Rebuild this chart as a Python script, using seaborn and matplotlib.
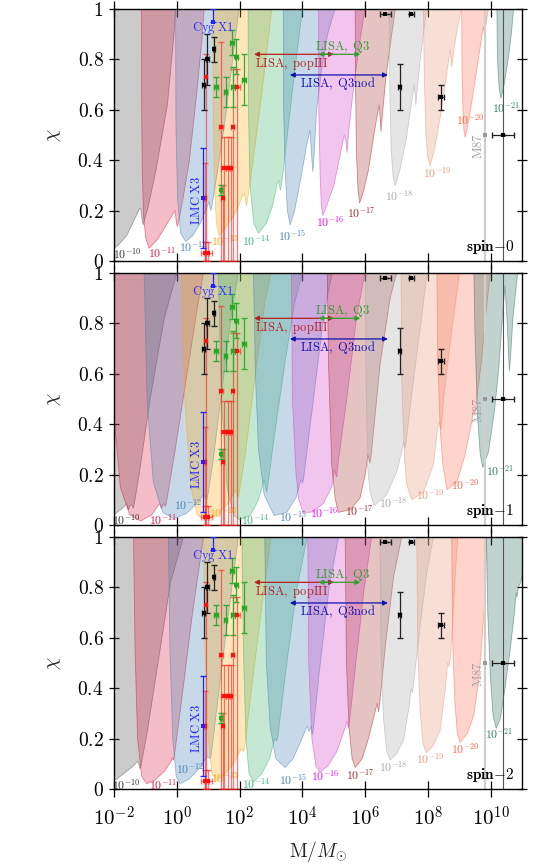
import numpy as np
import matplotlib
matplotlib.use("Agg")
import matplotlib.pyplot as plt
import seaborn as sns
from matplotlib.colors import to_rgba
from matplotlib.ticker import NullLocator

# boson masses (eV) and their colours
mass_labels = [r'$10^{-10}$', r'$10^{-11}$', r'$10^{-12}$', r'$10^{-13}$', r'$10^{-14}$', r'$10^{-15}$',
               r'$10^{-16}$', r'$10^{-17}$', r'$10^{-18}$', r'$10^{-19}$', r'$10^{-20}$', r'$10^{-21}$']
mass_colors = ['#555555', 'crimson', 'steelblue', 'orange', 'mediumseagreen', 'steelblue',
               '#d63fc8', 'brown', 'darkgray', 'darksalmon', 'tomato', '#2f6f60']
mass_alpha = [0.3, 0.28, 0.3, 0.27, 0.3, 0.3, 0.3, 0.28, 0.3, 0.3, 0.27, 0.3]
label_colors = ['#333333', 'crimson', 'steelblue', 'orange', 'mediumseagreen', 'steelblue',
                'magenta', 'brown', 'darkgray', 'darksalmon', 'tomato', '#2f7f68']

# excluded regions, vertices as (log10 M/Msun, chi)
# spin-0
s0_10 = [(-2.6, 1.0), (-2.4, 0.55), (-2.25, 0.18), (-2.12, 0.06), (-2.05, 0.044), (-1.85, 0.065), (-1.6, 0.1),
         (-1.35, 0.165), (-1.2, 0.205), (-1.15, 0.21), (-1.1, 0.16), (-1.07, 0.143), (-1.03, 0.165), (-0.94, 0.2),
         (-0.67, 0.355), (-0.3, 0.62), (-0.09, 0.9), (-0.04, 1.0)]
s0_11 = [(-1.13, 1.0), (-1.12, 0.6), (-1.1, 0.35), (-1.06, 0.18), (-0.99, 0.09), (-0.885, 0.05), (-0.62, 0.085),
         (-0.35, 0.14), (-0.13, 0.185), (-0.06, 0.2), (-0.01, 0.15), (0.02, 0.136), (0.06, 0.16), (0.2, 0.25),
         (0.4, 0.4), (0.62, 0.65), (0.8, 0.88), (0.87, 1.0)]
s0_12 = [(-0.04, 1.0), (-0.03, 0.55), (0.02, 0.25), (0.12, 0.11), (0.28, 0.077), (0.5, 0.1), (0.75, 0.15),
         (0.95, 0.21), (1.03, 0.235), (1.06, 0.21), (1.08, 0.2), (1.12, 0.22), (1.3, 0.36), (1.55, 0.57),
         (1.8, 0.82), (1.98, 1.0)]
s0_13 = [(1.15, 1.0), (1.16, 0.6), (1.2, 0.3), (1.26, 0.15), (1.35, 0.1), (1.6, 0.14), (1.9, 0.2), (2.1, 0.26),
         (2.16, 0.27), (2.19, 0.235), (2.22, 0.22), (2.26, 0.25), (2.45, 0.42), (2.7, 0.66), (2.9, 0.87), (3.02, 1.0)]
s0_14 = [(2.27, 1.0), (2.28, 0.6), (2.33, 0.3), (2.45, 0.15), (2.6, 0.11), (2.85, 0.15), (3.05, 0.22), (3.2, 0.31),
         (3.25, 0.32), (3.28, 0.29), (3.3, 0.28), (3.34, 0.31), (3.5, 0.48), (3.72, 0.72), (3.9, 0.9), (4.0, 1.0)]
s0_15 = [(3.39, 1.0), (3.4, 0.6), (3.45, 0.35), (3.52, 0.2), (3.605, 0.143), (3.75, 0.2), (3.95, 0.33),
         (4.12, 0.45), (4.24, 0.52), (4.29, 0.42), (4.33, 0.354), (4.37, 0.42), (4.45, 0.6), (4.6, 0.75),
         (4.8, 0.9), (5.04, 1.0)]
s0_16 = [(4.51, 1.0), (4.52, 0.6), (4.56, 0.35), (4.6, 0.22), (4.65, 0.18), (4.8, 0.23), (5.0, 0.3), (5.2, 0.42),
         (5.33, 0.5), (5.38, 0.48), (5.42, 0.43), (5.46, 0.5), (5.6, 0.66), (5.8, 0.85), (5.99, 1.0)]
s0_17 = [(5.68, 1.0), (5.69, 0.7), (5.72, 0.42), (5.77, 0.28), (5.82, 0.229), (5.95, 0.28), (6.1, 0.36),
         (6.3, 0.52), (6.44, 0.62), (6.48, 0.56), (6.5, 0.513), (6.53, 0.56), (6.65, 0.72), (6.82, 0.88), (6.96, 1.0)]
s0_18 = [(6.76, 1.0), (6.78, 0.7), (6.82, 0.45), (6.89, 0.33), (6.95, 0.298), (7.1, 0.36), (7.3, 0.48),
         (7.5, 0.65), (7.56, 0.7), (7.59, 0.65), (7.61, 0.62), (7.64, 0.66), (7.75, 0.8), (7.88, 0.93), (7.96, 1.0)]
s0_19 = [(7.85, 1.0), (7.88, 0.72), (7.93, 0.5), (7.99, 0.41), (8.06, 0.377), (8.2, 0.44), (8.4, 0.58),
         (8.6, 0.75), (8.7, 0.84), (8.73, 0.8), (8.75, 0.77), (8.78, 0.8), (8.9, 0.9), (9.05, 1.0)]
s0_20 = [(9.07, 1.0), (9.08, 0.75), (9.11, 0.6), (9.14, 0.52), (9.18, 0.49), (9.3, 0.56), (9.45, 0.68),
         (9.6, 0.8), (9.72, 0.9), (9.76, 0.93), (9.79, 0.9), (9.82, 0.92), (9.88, 0.97), (9.92, 1.0)]
s0_21 = [(10.19, 1.0), (10.21, 0.8), (10.26, 0.69), (10.32, 0.645), (10.42, 0.7), (10.55, 0.8), (10.65, 0.9),
         (10.72, 1.0)]

# spin-1
s1_10 = [(-3.3, 1.0), (-3.0, 0.3), (-2.6, 0.05), (-2.3, 0.03), (-1.95, 0.045), (-1.7, 0.07), (-1.6, 0.085),
         (-1.57, 0.07), (-1.54, 0.06), (-1.5, 0.075), (-1.42, 0.08), (-1.39, 0.065), (-1.36, 0.08), (-1.2, 0.2),
         (-0.85, 0.5), (-0.4, 0.82), (0.0, 1.0)]
s1_11 = [(-2.2, 1.0), (-2.05, 0.5), (-1.8, 0.15), (-1.5, 0.04), (-1.15, 0.016), (-0.8, 0.04), (-0.55, 0.085),
         (-0.52, 0.075), (-0.49, 0.065), (-0.45, 0.08), (-0.4, 0.085), (-0.37, 0.072), (-0.33, 0.09), (-0.05, 0.3),
         (0.35, 0.62), (0.65, 0.86), (0.85, 1.0)]
s1_12 = [(-1.04, 1.0), (-0.95, 0.5), (-0.75, 0.17), (-0.45, 0.05), (-0.1, 0.025), (0.3, 0.045), (0.6, 0.08),
         (0.85, 0.12), (0.9, 0.11), (0.95, 0.1), (1.0, 0.125), (1.15, 0.25), (1.45, 0.55), (1.75, 0.85), (1.96, 1.0)]
s1_13 = [(0.15, 1.0), (0.25, 0.5), (0.45, 0.15), (0.65, 0.04), (0.9, 0.02), (1.3, 0.04), (1.65, 0.09), (1.88, 0.14),
         (1.92, 0.12), (1.95, 0.11), (1.99, 0.13), (2.2, 0.3), (2.5, 0.6), (2.8, 0.88), (3.0, 1.0)]
s1_14 = [(1.32, 1.0), (1.42, 0.5), (1.6, 0.15), (1.8, 0.04), (2.0, 0.02), (2.35, 0.04), (2.6, 0.1), (2.78, 0.18),
         (2.82, 0.15), (2.86, 0.13), (2.9, 0.16), (3.1, 0.35), (3.45, 0.65), (3.75, 0.88), (4.0, 1.0)]
s1_15 = [(2.44, 1.0), (2.5, 0.6), (2.6, 0.3), (2.78, 0.12), (3.1, 0.037), (3.5, 0.05), (3.8, 0.11), (3.95, 0.18),
         (3.98, 0.175), (4.0, 0.165), (4.03, 0.18), (4.2, 0.35), (4.45, 0.6), (4.7, 0.85), (4.95, 1.0)]
s1_16 = [(3.65, 1.0), (3.68, 0.5), (3.79, 0.21), (3.87, 0.106), (4.03, 0.046), (4.35, 0.053), (4.67, 0.086),
         (4.93, 0.15), (5.02, 0.22), (5.06, 0.2), (5.09, 0.19), (5.13, 0.24), (5.41, 0.5), (5.73, 0.83), (5.99, 1.0)]
s1_17 = [(4.79, 1.0), (4.83, 0.635), (4.93, 0.24), (5.04, 0.106), (5.14, 0.05), (5.52, 0.06), (5.83, 0.106),
         (6.0, 0.2), (6.08, 0.28), (6.12, 0.26), (6.15, 0.245), (6.19, 0.28), (6.47, 0.635), (6.79, 0.9), (7.0, 1.0)]
s1_18 = [(6.0, 1.0), (6.02, 0.635), (6.07, 0.24), (6.15, 0.13), (6.28, 0.077), (6.68, 0.12), (7.0, 0.21),
         (7.16, 0.29), (7.22, 0.33), (7.25, 0.31), (7.27, 0.304), (7.3, 0.33), (7.53, 0.57), (7.8, 0.83), (7.97, 1.0)]
s1_19 = [(7.14, 1.0), (7.16, 0.57), (7.25, 0.26), (7.32, 0.16), (7.48, 0.1), (7.85, 0.13), (8.17, 0.24),
         (8.3, 0.38), (8.36, 0.41), (8.4, 0.377), (8.44, 0.42), (8.49, 0.5), (8.75, 0.77), (9.0, 1.0)]
s1_20 = [(8.28, 1.0), (8.31, 0.635), (8.39, 0.37), (8.47, 0.24), (8.6, 0.14), (8.92, 0.17), (9.18, 0.28),
         (9.39, 0.41), (9.45, 0.46), (9.49, 0.44), (9.53, 0.48), (9.7, 0.65), (9.85, 0.85), (9.98, 1.0)]
s1_21 = [(9.46, 1.0), (9.49, 0.77), (9.57, 0.44), (9.66, 0.28), (9.74, 0.228), (9.92, 0.29), (10.1, 0.44),
         (10.25, 0.62), (10.38, 0.85), (10.45, 0.95), (10.52, 0.8), (10.57, 0.65), (10.59, 0.61), (10.62, 0.66),
         (10.7, 0.82), (10.85, 1.0)]

# spin-2
s2_10 = [(-2.6, 1.0), (-2.5, 0.5), (-2.35, 0.12), (-2.15, 0.03), (-1.9, 0.04), (-1.6, 0.07), (-1.4, 0.09),
         (-1.25, 0.11), (-1.2, 0.095), (-1.17, 0.08), (-1.13, 0.1), (-0.95, 0.22), (-0.6, 0.5), (-0.2, 0.82),
         (0.21, 1.0)]
s2_11 = [(-1.38, 1.0), (-1.33, 0.55), (-1.25, 0.2), (-1.12, 0.05), (-0.96, 0.021), (-0.7, 0.035), (-0.4, 0.07),
         (-0.18, 0.11), (-0.14, 0.125), (-0.12, 0.115), (-0.11, 0.114), (-0.08, 0.13), (0.15, 0.35), (0.5, 0.7),
         (0.85, 1.0)]
s2_12 = [(-0.27, 1.0), (-0.22, 0.55), (-0.13, 0.2), (-0.02, 0.05), (0.1, 0.021), (0.4, 0.04), (0.7, 0.08),
         (0.98, 0.13), (1.02, 0.125), (1.06, 0.12), (1.1, 0.14), (1.35, 0.4), (1.65, 0.7), (1.96, 1.0)]
s2_13 = [(0.85, 1.0), (0.9, 0.55), (1.0, 0.2), (1.12, 0.06), (1.27, 0.034), (1.55, 0.06), (1.85, 0.11),
         (2.05, 0.16), (2.09, 0.155), (2.12, 0.147), (2.16, 0.165), (2.4, 0.42), (2.7, 0.72), (3.0, 1.0)]
s2_14 = [(2.07, 1.0), (2.12, 0.55), (2.2, 0.2), (2.3, 0.06), (2.44, 0.028), (2.7, 0.06), (2.95, 0.12),
         (3.12, 0.2), (3.15, 0.195), (3.18, 0.19), (3.22, 0.21), (3.45, 0.45), (3.8, 0.78), (4.15, 1.0)]
s2_15 = [(2.8, 1.0), (2.85, 0.5), (2.97, 0.25), (3.15, 0.12), (3.45, 0.085), (3.7, 0.12), (3.95, 0.19),
         (4.15, 0.25), (4.2, 0.23), (4.22, 0.23), (4.28, 0.25), (4.31, 0.215), (4.35, 0.24), (4.55, 0.48),
         (4.85, 0.8), (5.15, 1.0)]
s2_16 = [(4.17, 1.0), (4.2, 0.5), (4.3, 0.2), (4.43, 0.09), (4.56, 0.067), (4.8, 0.09), (5.1, 0.15), (5.35, 0.24),
         (5.42, 0.27), (5.46, 0.24), (5.5, 0.27), (5.7, 0.5), (5.95, 0.78), (6.2, 1.0)]
s2_17 = [(5.36, 1.0), (5.4, 0.5), (5.48, 0.25), (5.58, 0.12), (5.68, 0.085), (5.9, 0.12), (6.1, 0.2), (6.3, 0.3),
         (6.38, 0.34), (6.42, 0.306), (6.46, 0.34), (6.65, 0.58), (6.9, 0.84), (7.16, 1.0)]
s2_18 = [(6.47, 1.0), (6.5, 0.55), (6.58, 0.28), (6.68, 0.15), (6.79, 0.114), (7.0, 0.14), (7.21, 0.19),
         (7.4, 0.33), (7.46, 0.4), (7.5, 0.38), (7.54, 0.42), (7.75, 0.65), (7.95, 0.85), (8.17, 1.0)]
s2_19 = [(7.64, 1.0), (7.67, 0.55), (7.75, 0.3), (7.84, 0.18), (7.94, 0.143), (8.15, 0.17), (8.38, 0.23),
         (8.55, 0.4), (8.62, 0.5), (8.67, 0.484), (8.71, 0.52), (8.8, 0.7), (8.88, 0.88), (8.95, 1.0)]
s2_20 = [(8.75, 1.0), (8.78, 0.6), (8.85, 0.35), (8.93, 0.22), (9.02, 0.185), (9.25, 0.22), (9.45, 0.29),
         (9.6, 0.42), (9.66, 0.5), (9.75, 0.65), (9.82, 0.76), (9.87, 1.0)]
s2_21 = [(9.86, 1.0), (9.9, 0.7), (9.98, 0.45), (10.07, 0.29), (10.17, 0.24), (10.3, 0.28), (10.45, 0.4),
         (10.62, 0.56), (10.75, 0.7), (10.8, 0.78), (10.83, 0.76), (10.87, 0.8), (10.95, 0.82), (11.1, 0.9),
         (11.2, 1.0)]

# where the mass labels sit (log10 M, chi)
s0_lab_x = [-1.58, -0.47, 0.52, 1.54, 2.54, 3.69, 4.88, 5.89, 7.09, 8.28, 9.35, 10.5]
s0_lab_y = [0.026, 0.03, 0.055, 0.077, 0.077, 0.094, 0.156, 0.19, 0.258, 0.348, 0.56, 0.606]
s1_lab_x = [-1.6, -0.43, 0.37, 1.48, 2.49, 3.71, 4.71, 5.82, 6.89, 8.06, 9.18, 10.29]
s1_lab_y = [0.02, 0.02, 0.08, 0.046, 0.02, 0.03, 0.046, 0.055, 0.086, 0.12, 0.16, 0.214]
s2_lab_x = [-1.6, -0.43, 0.42, 1.54, 2.54, 3.71, 4.72, 5.83, 6.9, 8.06, 9.18, 10.27]
s2_lab_y = [0.017, 0.017, 0.077, 0.041, 0.021, 0.032, 0.05, 0.054, 0.087, 0.118, 0.16, 0.217]

# black hole spin measurements (log10 M, chi, errors in chi, errors in log10 M)
black_logm = [0.85, 0.97, 1.19, 6.63, 7.47, 7.09, 8.41, 10.37]
black_chi = [0.70, 0.80, 0.84, 0.98, 0.98, 0.69, 0.65, 0.50]
black_chi_lo = [0.10, 0.10, 0.05, 0.0, 0.0, 0.09, 0.05, 0.0]
black_chi_hi = [0.10, 0.10, 0.05, 0.0, 0.0, 0.09, 0.05, 0.0]
black_m_lo = [0.04, 0.04, 0.04, 0.16, 0.085, 0.05, 0.1, 0.32]
black_m_hi = [0.04, 0.04, 0.04, 0.18, 0.085, 0.05, 0.1, 0.38]

red_logm = [0.92, 0.89, 0.90, 1.0, 1.40, 1.78, 1.49, 1.63, 1.72, 1.46, 1.92]
red_chi = [0.73, 0.25, 0.03, 0.03, 0.53, 0.53, 0.37, 0.37, 0.37, 0.25, 0.69]
red_chi_lo = [0.73, 0.25, 0.03, 0.03, 0.53, 0.53, 0.37, 0.37, 0.37, 0.25, 0.69]
red_chi_hi = [0.09, 0.14, 0.045, 0.045, 0.34, 0.23, 0.12, 0.12, 0.12, 0.05, 0.07]
red_m_err = [0.04, 0.04, 0.12, 0.12, 0.07, 0.05, 0.07, 0.05, 0.05, 0.04, 0.08]

green_logm = [1.76, 1.89, 1.25, 1.55, 1.79, 2.15, 1.41]
green_chi = [0.866, 0.81, 0.69, 0.67, 0.69, 0.72, 0.28]
green_chi_err = [0.05, 0.07, 0.04, 0.06, 0.08, 0.1, 0.02]
green_m_err = [0.07, 0.05, 0.06, 0.06, 0.05, 0.06, 0.03]

blue_logm = [1.15, 0.84]          # Cyg X1, LMC X3
blue_chi = [0.95, 0.25]
blue_chi_lo = [0.0, 0.2]
blue_chi_hi = [0.05, 0.2]

m87_logm = 9.82
m87_chi = 0.5
heavy_logm = 10.37

# LISA ranges (log10 M) and heights
lisa_names = [r'$\mathrm{LISA,\ popIII}$', r'$\mathrm{LISA,\ Q3}$', r'$\mathrm{LISA,\ Q3nod}$']
lisa_from = [2.46, 4.51, 3.6]
lisa_to = [5.0, 5.84, 6.72]
lisa_chi = [0.82, 0.82, 0.738]
lisa_colors = ['#b52020', '#2ca02c', '#1010b0']
lisa_text_x = [2.49, 5.28, 5.14]
lisa_text_y = [0.783, 0.848, 0.703]

panels = [
    ([s0_10, s0_11, s0_12, s0_13, s0_14, s0_15, s0_16, s0_17, s0_18, s0_19, s0_20, s0_21], s0_lab_x, s0_lab_y, 0),
    ([s1_10, s1_11, s1_12, s1_13, s1_14, s1_15, s1_16, s1_17, s1_18, s1_19, s1_20, s1_21], s1_lab_x, s1_lab_y, 1),
    ([s2_10, s2_11, s2_12, s2_13, s2_14, s2_15, s2_16, s2_17, s2_18, s2_19, s2_20, s2_21], s2_lab_x, s2_lab_y, 2),
]

sns.set_theme(style="ticks")
plt.rcParams['font.family'] = ['DejaVu Serif']
plt.rcParams['mathtext.fontset'] = 'cm'
plt.rcParams['axes.edgecolor'] = 'black'
plt.rcParams['xtick.color'] = 'black'
plt.rcParams['ytick.color'] = 'black'
plt.rcParams['text.color'] = 'black'


def m(logm):
    return np.power(10.0, np.asarray(logm, dtype=float))


def m_err(logm, lo, hi):
    logm = np.asarray(logm, dtype=float)
    return [m(logm) - m(logm - np.asarray(lo)), m(logm + np.asarray(hi)) - m(logm)]


fig = plt.figure(figsize=(5.49, 8.67), dpi=100)
bottoms = [0.699, 0.3945, 0.090]

for regions, lab_x, lab_y, spin in panels:
    ax = fig.add_axes([0.2077, bottoms[spin], 0.7437, 0.2907])
    ax.set_xscale('log')

    for verts, c, a in zip(regions, mass_colors, mass_alpha):
        v = np.array(verts)
        ax.fill(m(v[:, 0]), v[:, 1], facecolor=to_rgba(c, a), edgecolor=to_rgba(c, 0.5),
                lw=0.6, zorder=1)
    for lx, ly, txt, c in zip(lab_x, lab_y, mass_labels, label_colors):
        ax.text(m(lx), ly, txt, color=c, fontsize=8.5, ha='center', va='center', zorder=3)

    # M87 and the heaviest hole
    ax.axvline(m(m87_logm), color='#cfcfcf', lw=1.6, zorder=2)
    ax.axvline(m(heavy_logm), color='#555555', lw=0.8, zorder=2)
    ax.text(m(9.61), 0.455, r'$\mathrm{M87}$', color='#a0a0a0', fontsize=9, rotation=90,
            ha='center', va='center', zorder=3)

    # error bars
    ax.errorbar(m(red_logm), red_chi, yerr=[red_chi_lo, red_chi_hi],
                xerr=m_err(red_logm, red_m_err, red_m_err), fmt='none', ecolor=(1, 0.1, 0.1, 0.6),
                elinewidth=0.9, capsize=2.2, zorder=4)
    ax.errorbar(m(green_logm), green_chi, yerr=green_chi_err,
                xerr=m_err(green_logm, green_m_err, green_m_err), fmt='none', ecolor='#33aa33',
                elinewidth=0.9, capsize=2.2, zorder=4)
    ax.errorbar(m(black_logm), black_chi, yerr=[black_chi_lo, black_chi_hi],
                xerr=m_err(black_logm, black_m_lo, black_m_hi), fmt='none', ecolor='#222222',
                elinewidth=0.9, capsize=2.2, zorder=4)
    ax.errorbar(m(blue_logm), blue_chi, yerr=[blue_chi_lo, blue_chi_hi], fmt='none', ecolor='#2222ff',
                elinewidth=0.9, capsize=2.2, zorder=4)

    sns.scatterplot(x=m(red_logm), y=red_chi, ax=ax, marker='s', s=9, color='#ff1010', edgecolor='#ff1010',
                    linewidth=0, zorder=5, legend=False)
    sns.scatterplot(x=m(green_logm), y=green_chi, ax=ax, marker='s', s=9, color='#22aa22', linewidth=0,
                    zorder=5, legend=False)
    sns.scatterplot(x=m(black_logm), y=black_chi, ax=ax, marker='s', s=9, color='black', linewidth=0,
                    zorder=5, legend=False)
    sns.scatterplot(x=m(blue_logm), y=blue_chi, ax=ax, marker='s', s=9, color='#2222ff', linewidth=0,
                    zorder=5, legend=False)
    sns.scatterplot(x=[m(m87_logm)], y=[m87_chi], ax=ax, marker='s', s=9, color='#999999', linewidth=0,
                    zorder=5, legend=False)

    ax.text(m(1.16), 0.925, r'$\mathrm{Cyg\ X1}$', color='#3333ff', fontsize=9, ha='center', va='center',
            zorder=6)
    ax.text(m(0.63), 0.24, r'$\mathrm{LMC\ X3}$', color='#2222ff', fontsize=9, rotation=90,
            ha='center', va='center', zorder=6)

    for name, x0, x1, yy, c, tx, ty in zip(lisa_names, lisa_from, lisa_to, lisa_chi, lisa_colors,
                                            lisa_text_x, lisa_text_y):
        ax.annotate('', xy=(m(x1), yy), xytext=(m(x0), yy),
                    arrowprops=dict(arrowstyle='<|-|>', color=c, lw=0.9, mutation_scale=7,
                                    shrinkA=0, shrinkB=0), zorder=6)
        ha = 'left' if name.endswith('popIII}$') else 'center'
        ax.text(m(tx), ty, name, color=c, fontsize=9, ha=ha, va='center', zorder=6)

    ax.text(0.982, 0.057, r'$\mathbf{spin\!-\!%d}$' % spin, transform=ax.transAxes, fontsize=11,
            ha='right', va='center', zorder=6)

    ax.set_xlim(1e-2, 1e11)
    ax.set_ylim(0, 1)
    ax.set_xticks(m([-2, 0, 2, 4, 6, 8, 10]))
    ax.xaxis.set_minor_locator(NullLocator())
    ax.set_yticks([0, 0.2, 0.4, 0.6, 0.8, 1.0])
    ax.set_yticklabels(['$0$', '$0.2$', '$0.4$', '$0.6$', '$0.8$', '$1$'], fontsize=14)
    if spin == 2:
        ax.set_xticklabels([r'$10^{-2}$', r'$10^{0}$', r'$10^{2}$', r'$10^{4}$', r'$10^{6}$',
                            r'$10^{8}$', r'$10^{10}$'], fontsize=15)
        ax.set_xlabel(r'$\mathrm{M}/M_{\odot}$', fontsize=14)
        ax.xaxis.set_label_coords(0.5, -0.2)
    else:
        ax.set_xticklabels([])
        ax.set_xlabel('')
    ax.set_ylabel(r'$\chi$', fontsize=14, rotation=90)
    ax.yaxis.set_label_coords(-0.125, 0.5)
    ax.tick_params(axis='x', which='major', direction='inout', length=12, width=0.9, top=True, bottom=True,
                   pad=6)
    ax.tick_params(axis='y', which='major', direction='inout', length=7, width=0.9, left=True, right=True,
                   pad=4)
    for sp in ax.spines.values():
        sp.set_linewidth(1.0)
        sp.set_color('black')

fig.savefig('out.png', dpi=100)
